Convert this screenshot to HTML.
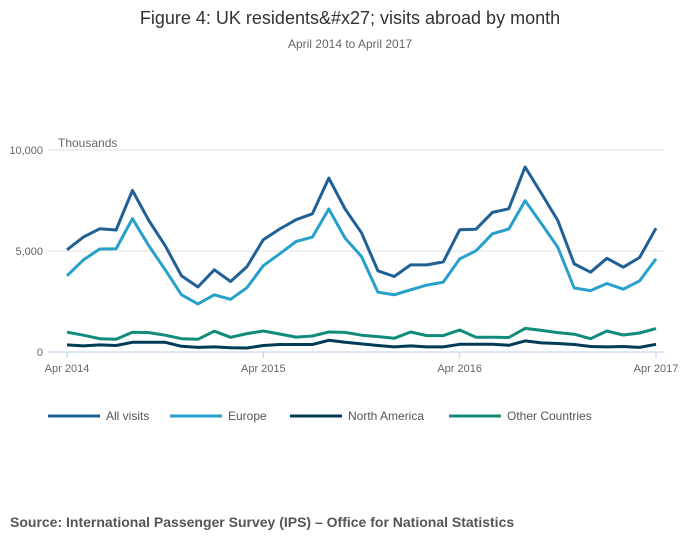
<!DOCTYPE html>
<html><head><meta charset="utf-8"><style>
body{margin:0;background:#fff;font-family:"Liberation Sans",sans-serif;}
svg text{font-family:"Liberation Sans",sans-serif;}
</style></head><body>
<svg id="chart" width="700" height="549" xmlns="http://www.w3.org/2000/svg">
<text x="350" y="24" text-anchor="middle" font-size="18" fill="#333">Figure 4: UK residents&amp;#x27; visits abroad by month</text>
<text x="350" y="48" text-anchor="middle" font-size="12" fill="#666">April 2014 to April 2017</text>
<text x="58" y="147" font-size="12" fill="#666">Thousands</text>
<g id="grid"></g><g id="lines"></g><g id="legend"></g>
<text x="10" y="527" font-size="14" font-weight="bold" fill="#555">Source: International Passenger Survey (IPS) – Office for National Statistics</text>
</svg>
<script>
const xTicks=["Apr 2014","Apr 2015","Apr 2016","Apr 2017"];
const yTicks=[0,5000,10000];
const seriesNames=["All visits","Europe","North America","Other Countries"];
const allVisits=[5060,5690,6100,6040,8000,6510,5260,3770,3220,4070,3490,4230,5560,6090,6550,6840,8610,7080,5900,4020,3740,4310,4310,4460,6050,6080,6910,7090,9160,7840,6510,4360,3950,4640,4200,4680,6130];
const europe=[3770,4560,5100,5110,6600,5260,4070,2830,2380,2830,2610,3190,4270,4860,5470,5690,7080,5640,4730,2960,2830,3080,3310,3460,4610,5010,5850,6090,7490,6350,5190,3170,3040,3390,3110,3520,4610];
const northAmerica=[350,300,350,320,480,480,480,280,230,250,210,200,320,370,370,370,580,480,400,320,250,300,250,250,380,380,380,330,550,450,420,370,270,250,270,230,380];
const otherCountries=[980,830,660,630,980,960,830,660,630,1030,730,910,1040,890,740,790,990,970,830,760,680,990,810,810,1090,730,730,720,1170,1070,960,880,660,1040,840,940,1160];
const colors=["#206095","#27a0cc","#003c57","#118c7b"];
const NS="http://www.w3.org/2000/svg";
const x0=67,x1=656,y0=352,y1=150;
const xs=i=>x0+(x1-x0)*i/36;
const ys=v=>y0-(y0-y1)*v/10000;
function mk(t,a,p){const e=document.createElementNS(NS,t);for(const k in a)e.setAttribute(k,a[k]);p.appendChild(e);return e;}
const grid=document.getElementById('grid');
yTicks.forEach(v=>{
 const l=mk('line',{x1:48,x2:665,y1:ys(v),y2:ys(v),stroke:v===0?'#bcd0e6':'#e0e0e0','stroke-width':1},grid);
 
 
 const t=mk('text',{x:43,y:ys(v)+4,'text-anchor':'end','font-size':11,fill:'#666'},grid);
 t.textContent=v.toLocaleString('en-US');
 
 
});
xTicks.forEach((s,j)=>{
 const x=xs(j*12);
 const l=mk('line',{x1:x,x2:x,y1:y0,y2:y0+6,stroke:'#bcd0e6'},grid);
 
 
 const t=mk('text',{x:x,y:y0+20,'text-anchor':'middle','font-size':11,fill:'#666'},grid);
 t.textContent=s;
 
 
});
const data=[allVisits,europe,northAmerica,otherCountries];
const lines=document.getElementById('lines');
[3,2,1,0].forEach(k=>{
 const d=data[k].map((v,i)=>(i?'L':'M')+xs(i).toFixed(1)+','+ys(v).toFixed(1)).join('');
 const p=mk('path',{d:d,fill:'none',stroke:colors[k],'stroke-width':3,'stroke-linejoin':'round'},lines);
 
 
});
const lg=document.getElementById('legend');
const lx=[48,170,290,449];
seriesNames.forEach((n,k)=>{
 const g=mk('g',{},lg);
 
 
 mk('line',{x1:lx[k],x2:lx[k]+52,y1:416,y2:416,stroke:colors[k],'stroke-width':3},g);
 const t=mk('text',{x:lx[k]+58,y:420,'font-size':12,fill:'#555'},g);
 t.textContent=n;
});
</script>
</body></html>
